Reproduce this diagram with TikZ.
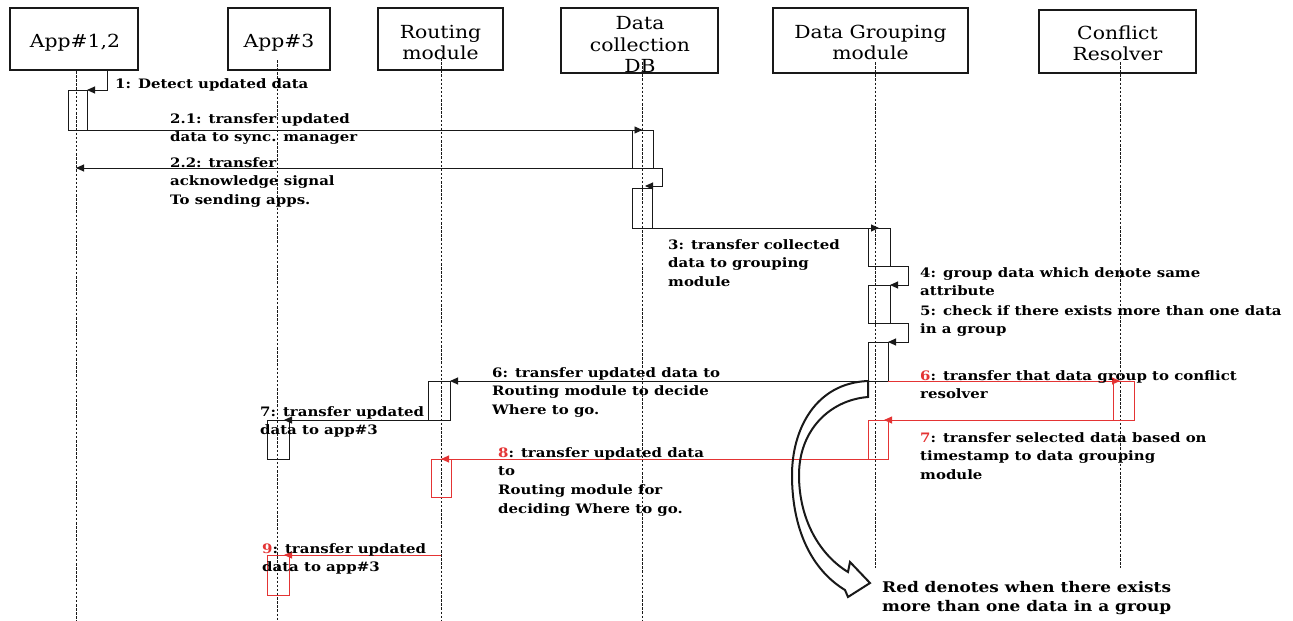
\documentclass[tikz,border=0pt]{standalone}
\usepackage{fontspec}
\setmainfont{DejaVu Serif}
\newfontfamily\lblfont[FakeStretch=1.15]{DejaVu Serif}
\newfontfamily\hdrfont[FakeStretch=1.13]{DejaVu Serif}
\usetikzlibrary{arrows.meta,calc}
\definecolor{msgred}{RGB}{228,52,52}
\definecolor{ink}{RGB}{25,25,25}
\begin{document}
\begin{tikzpicture}[x=1pt,y=-1pt,
  hdr/.style={draw=ink, line width=2.6pt, inner sep=0pt, outer sep=0pt},
  hdrtext/.style={font=\hdrfont\fontsize{18}{21.5}\selectfont, align=center, inner sep=0pt},
  lbl/.style={font=\lblfont\bfseries\fontsize{13}{18.7}\selectfont, align=left, anchor=north west, inner sep=0pt},
  act/.style={draw=ink, line width=0.9pt, inner sep=0pt, outer sep=0pt, anchor=north west},
  actred/.style={act, draw=msgred},
  msg/.style={draw=ink, line width=0.9pt, -{Triangle[length=8pt,width=7pt]}},
  msgred/.style={msg, draw=msgred, fill=msgred},
  life/.style={draw=ink, line width=0.9pt, dash pattern=on 2.5pt off 1.6pt},
]
\useasboundingbox (0,0) rectangle (1293,621);

% ---- participant boxes ----
\node[hdr, minimum width=128pt, minimum height=62pt] (hApp12) at (74,39) {};
\node[hdr, minimum width=102pt, minimum height=62pt] (hApp3)  at (279,39) {};
\node[hdr, minimum width=125pt, minimum height=62pt] (hRoute) at (440.5,39) {};
\node[hdr, minimum width=157pt, minimum height=65pt] (hDB)    at (639.5,40.5) {};
\node[hdr, minimum width=195pt, minimum height=65pt] (hGroup) at (870.5,40.5) {};
\node[hdr, minimum width=157pt, minimum height=63pt] (hConf)  at (1117.5,41.5) {};

\node[hdrtext] (tApp12) at (75,43) {App\#1,2};
\node[hdrtext] (tApp3)  at (279,43) {App\#3};
\node[hdrtext] (tRoute) at (440.5,42.5) {Routing\\module};
\node[hdrtext] (tDB)    at (640,44.5) {Data\\collection\\DB};
\node[hdrtext] (tGroup) at (870.5,42.5) {Data Grouping\\module};
\node[hdrtext] (tConf)  at (1117.5,43.5) {Conflict\\Resolver};

% ---- lifelines ----
\coordinate (L1top) at (76,71);    \coordinate (L1bot) at (76,621);
\coordinate (L3top) at (277,60);   \coordinate (L3bot) at (277,621);
\coordinate (LRtop) at (441,58);   \coordinate (LRbot) at (441,621);
\coordinate (LDtop) at (642,62);   \coordinate (LDbot) at (642,621);
\coordinate (LGtop) at (875,62);   \coordinate (LGbot) at (875,568);
\coordinate (LCtop) at (1120,62);  \coordinate (LCbot) at (1120,568);
\draw[life] (L1top) -- (L1bot);
\draw[life] (L3top) -- (L3bot);
\draw[life] (LRtop) -- (LRbot);
\draw[life] (LDtop) -- (LDbot);
\draw[life] (LGtop) -- (LGbot);
\draw[life] (LCtop) -- (LCbot);

% ---- activation bars ----
\node[act, minimum width=19pt, minimum height=40pt] (a1)  at (68,90) {};
\node[act, minimum width=21pt, minimum height=38pt] (db1) at (632,130) {};
\node[act, minimum width=20pt, minimum height=40pt] (db2) at (632,188) {};
\node[act, minimum width=22pt, minimum height=38pt] (g1)  at (868,228) {};
\node[act, minimum width=22pt, minimum height=38pt] (g2)  at (868,285) {};
\node[act, minimum width=20pt, minimum height=39pt] (g3)  at (868,342) {};
\node[act, minimum width=22pt, minimum height=39pt] (rB)  at (428,381) {};
\node[act, minimum width=22pt, minimum height=39pt] (a3)  at (267,420) {};
\node[actred, minimum width=21pt, minimum height=39pt] (cR) at (1113,381) {};
\node[actred, minimum width=20pt, minimum height=39pt] (g4) at (868,420) {};
\node[actred, minimum width=20pt, minimum height=38pt] (rR) at (431,459) {};
\node[actred, minimum width=22pt, minimum height=40pt] (a3r) at (267,555) {};

% ---- messages ----
\coordinate (s1) at (107,71);
\draw[msg] (s1) |- (a1.north east);
\draw[msg] (a1.south west) -- (db1.north);
\draw[msg] (db1.south east) -- (db1.south -| L1top);
\draw[msg] (db1.south east) -- ++(9,0) |- ($(db2.north)+(3,-2)$);
\draw[msg] (db2.south west) -- (g1.north);
\draw[msg] (g1.south) -- ++(29,0) |- (g2.north east);
\draw[msg] (g2.south) -- ++(29,0) |- (g3.north east);
\draw[msg] (g3.south west) -- (rB.north east);
\draw[msgred] (g3.south east) -- (cR.north -| LCtop);
\draw[msgred] (cR.south east) -- ($(g4.north east)+(-4,0)$);
\draw[msgred] (g4.south west) -- (rR.north -| LRtop);
\draw[msg] (rB.south west) -- ($(a3.north east)+(-5,0)$);
\draw[msgred] (a3r.north -| LRtop) -- ($(a3r.north east)+(-5,0)$);

% ---- message labels ----
\node[lbl] (t1)  at (115,78)  {1: Detect updated data};
\node[lbl] (t21) at (170,113) {2.1: transfer updated\\data to sync. manager};
\node[lbl] (t22) at (170,157) {2.2: transfer\\acknowledge signal\\To sending apps.};
\node[lbl] (t3)  at (668,239) {3: transfer collected\\data to grouping\\module};
\node[lbl] (t4)  at (920,267) {4: group data which denote same\\attribute};
\node[lbl] (t5)  at (920,305) {5: check if there exists more than one data\\in a group};
\node[lbl] (t6r) at (920,370) {\textcolor{msgred}{6}: transfer that data group to conflict\\resolver};
\node[lbl] (t7r) at (920,432) {\textcolor{msgred}{7}: transfer selected data based on\\timestamp to data grouping\\module};
\node[lbl] (t6b) at (492,367) {6: transfer updated data to\\Routing module to decide\\Where to go.};
\node[lbl] (t8)  at (498,447) {\textcolor{msgred}{8}: transfer updated data\\to\\Routing module for\\deciding Where to go.};
\node[lbl] (t7b) at (260,406) {7: transfer updated\\data to app\#3};
\node[lbl] (t9)  at (262,543) {\textcolor{msgred}{9}: transfer updated\\data to app\#3};

% ---- curved hollow arrow and note ----
\draw[ink, line width=2pt, line join=miter]
  (868,381) .. controls (815,383) and (792,430) .. (792,475)
            .. controls (792,530) and (812,570) .. (845,590)
  -- (848,597) -- (870,583) -- (850,562) -- (848,572)
            .. controls (820,555) and (799,520) .. (799,475)
            .. controls (799,430) and (830,400) .. (868,397) -- cycle;
\node[lbl, font=\lblfont\bfseries\fontsize{14.7}{19}\selectfont] (note) at (882,581)
  {Red denotes when there exists\\more than one data in a group};
\end{tikzpicture}
\end{document}
